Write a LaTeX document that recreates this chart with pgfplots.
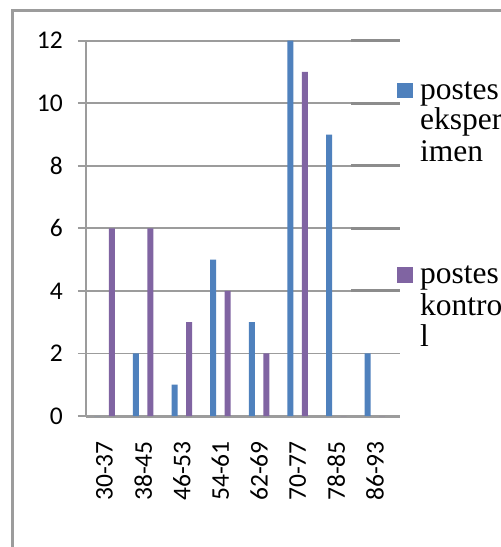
\documentclass[border=0pt]{standalone}
\usepackage{pgfplots}
\pgfplotsset{compat=1.18}
\usepackage{fontspec}
\setmainfont{Carlito}
\newfontfamily\tnr{Liberation Serif}
\definecolor{eblue}{HTML}{4F81BD}
\definecolor{kpurple}{HTML}{8064A2}
\definecolor{gridgray}{HTML}{9C9C9C}
\definecolor{darkgrid}{HTML}{8C8C8C}
\begin{document}
\begin{tikzpicture}
\useasboundingbox (0pt,0pt) rectangle (501pt,547pt);
\begin{scope}
\clip (0pt,0pt) rectangle (501pt,547pt);
\fill[white] (0pt,0pt) rectangle (501pt,547pt);
\draw[gridgray, line width=2.5pt] (12.3pt,-10pt) -- (12.3pt,536.3pt) -- (520pt,536.3pt);
\begin{axis}[
  at={(86pt,131pt)}, anchor=south west, scale only axis,
  width=314pt, height=375.3pt,
  xmin=-0.48, xmax=7.65, ymin=0, ymax=12,
  axis x line*=bottom, axis y line*=left,
  x axis line style={gridgray, line width=3pt},
  y axis line style={gridgray, line width=1.8pt},
  xtick={0,...,7},
  xticklabels={30-37,38-45,46-53,54-61,62-69,70-77,78-85,86-93},
  xtick style={draw=none},
  ytick={0,2,...,12},
  ytick style={gridgray, line width=1.8pt},
  tick align=outside, major tick length=8pt,
  ymajorgrids, grid style={gridgray, line width=1.8pt},
  tick label style={font=\fontsize{25.5}{25.5}\selectfont, text=black},
  /pgf/number format/assume math mode=true,
  xticklabel style={rotate=90, anchor=east, inner sep=0pt},
  yticklabel style={anchor=east, inner sep=0pt},
  xticklabel shift=17pt,
  yticklabel shift=15pt,
  clip=false,
]
\pgfplotsinvokeforeach{4,6,8,10,12}{
  \draw[darkgrid, line width=3pt] (axis cs:6.38,#1) -- (axis cs:7.65,#1);
}
\addplot[ybar, bar width=6pt, bar shift=-7.25pt, fill=eblue, draw=none]
  coordinates {(0,0) (1,2) (2,1) (3,5) (4,3) (5,12) (6,9) (7,2)};
\addplot[ybar, bar width=6pt, bar shift=7.25pt, fill=kpurple, draw=none]
  coordinates {(0,6) (1,6) (2,3) (3,4) (4,2) (5,11) (6,0) (7,0)};
\end{axis}
% legend
\fill[eblue] (397pt,448.7pt) rectangle (412.7pt,464.3pt);
\fill[kpurple] (397pt,264pt) rectangle (412.7pt,279.5pt);
\begin{scope}[every node/.style={anchor=base west, inner sep=0pt, font=\tnr\fontsize{31.5}{32}\selectfont}]
\node at (420pt,447.7pt) {postes};
\node at (420pt,417pt) {eksper};
\node at (420pt,385.3pt) {imen};
\node at (420pt,263pt) {postes};
\node at (420pt,231.7pt) {kontro};
\node at (420pt,200.3pt) {l};
\end{scope}
\end{scope}
\end{tikzpicture}
\end{document}
